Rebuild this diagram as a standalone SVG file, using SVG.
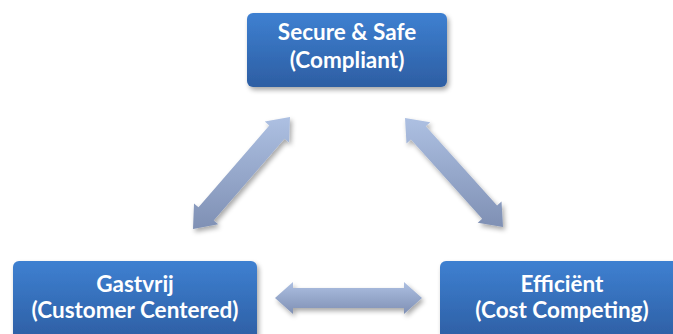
<svg xmlns="http://www.w3.org/2000/svg" width="673" height="334" viewBox="0 0 673 334">
<defs>
<linearGradient id="boxg" x1="0" y1="0" x2="0" y2="1">
<stop offset="0" stop-color="#3e80d1"/>
<stop offset="1" stop-color="#2d5ea3"/>
</linearGradient>
<linearGradient id="arrg" x1="0" y1="0" x2="0" y2="1">
<stop offset="0" stop-color="#adc0e2"/>
<stop offset="1" stop-color="#7f90b4"/>
</linearGradient>
<filter id="sh" x="-20%" y="-20%" width="140%" height="150%">
<feGaussianBlur in="SourceAlpha" stdDeviation="2.5"/>
<feOffset dx="2" dy="3" result="b"/>
<feComponentTransfer><feFuncA type="linear" slope="0.35"/></feComponentTransfer>
<feMerge><feMergeNode/><feMergeNode in="SourceGraphic"/></feMerge>
</filter>
</defs>
<style>
.box{fill:url(#boxg);filter:url(#sh)}
.arr{fill:url(#arrg);filter:url(#sh)}
.t{fill:#ffffff;font-family:Lato,"Open Sans",sans-serif;font-weight:bold;font-size:22.5px;text-anchor:middle}
</style>
<rect width="673" height="334" fill="#ffffff"/>
<g id="connectors">
<polygon class="arr" points="193,229 194.0,203.4 198.5,207.3 269.3,125.6 264.8,121.6 290,117 289.0,142.6 284.5,138.7 213.7,220.4 218.2,224.3"/>
<polygon class="arr" points="405,118 430.27,122.17 425.80,126.19 497.07,205.45 501.53,201.43 503,227 477.73,222.83 482.20,218.82 410.93,139.55 406.47,143.57"/>
<polygon class="arr" points="275,298 293,282 293,288 404,288 404,282 422,298 404,314 404,308 293,308 293,314"/>
</g>
<g id="node-secure">
<rect class="box" x="247" y="13" width="200" height="74" rx="6"/>
<text class="t" x="347" y="40">Secure &amp; Safe</text>
<text class="t" x="347" y="68">(Compliant)</text>
</g>
<g id="node-gastvrij">
<rect class="box" x="13" y="261" width="244" height="80" rx="6"/>
<text class="t" x="135" y="292">Gastvrij</text>
<text class="t" x="135" y="318">(Customer Centered)</text>
</g>
<g id="node-efficient">
<rect class="box" x="440" y="261" width="244" height="80" rx="6"/>
<text class="t" x="562" y="292">Efficiënt</text>
<text class="t" x="562" y="318">(Cost Competing)</text>
</g>
</svg>
